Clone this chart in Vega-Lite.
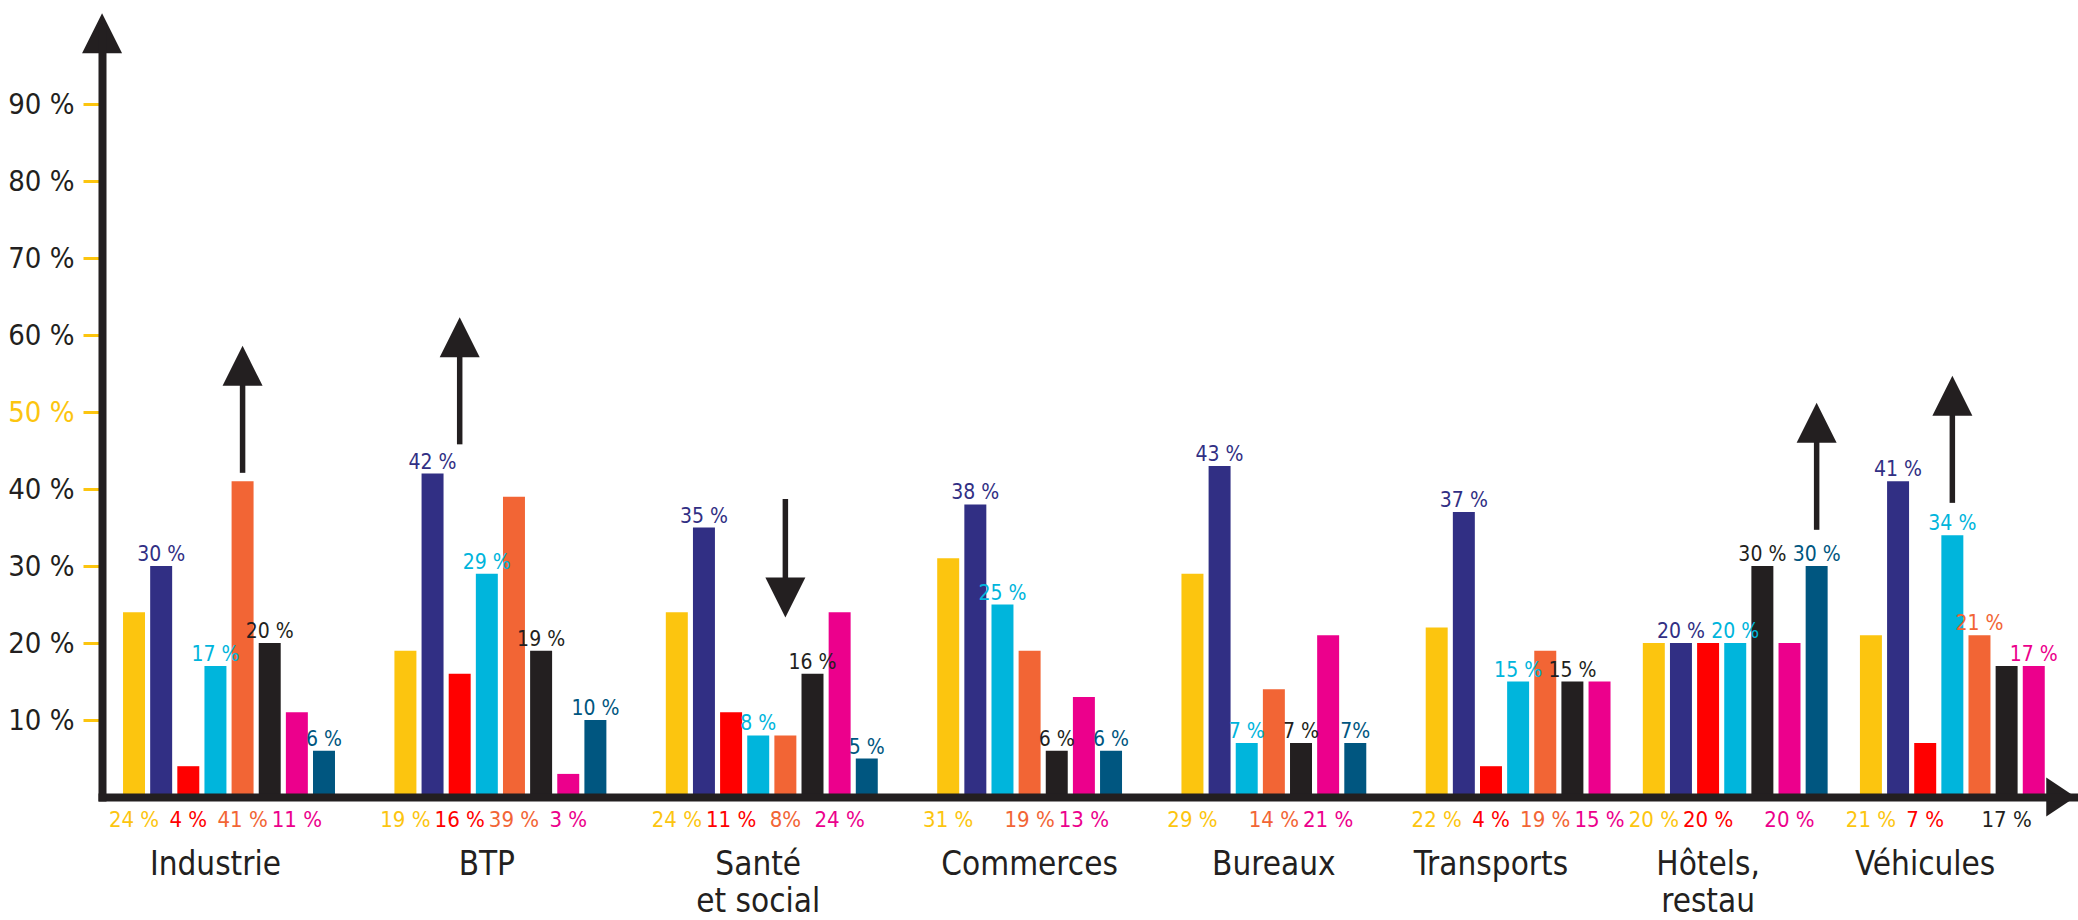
{
  "$schema": "https://vega.github.io/schema/vega-lite/v6.json",
  "width": 1976,
  "height": 770,
  "autosize": {"type": "none"},
  "padding": {"left": 102, "top": 27, "right": 0, "bottom": 123},
  "background": "#ffffff",
  "config": {
    "view": {"stroke": null},
    "font": "DejaVu Sans Condensed, Roboto, sans-serif",
    "axis": {"grid": false}
  },
  "datasets": {
    "barres": [
      {"secteur": "Industrie", "serie": "jaune", "id": "Industrie/jaune", "valeur": 24, "etiquette": "24 %", "place": "dessous"},
      {"secteur": "Industrie", "serie": "bleu", "id": "Industrie/bleu", "valeur": 30, "etiquette": "30 %", "place": "dessus"},
      {"secteur": "Industrie", "serie": "rouge", "id": "Industrie/rouge", "valeur": 4, "etiquette": "4 %", "place": "dessous"},
      {"secteur": "Industrie", "serie": "cyan", "id": "Industrie/cyan", "valeur": 17, "etiquette": "17 %", "place": "dessus"},
      {"secteur": "Industrie", "serie": "orange", "id": "Industrie/orange", "valeur": 41, "etiquette": "41 %", "place": "dessous"},
      {"secteur": "Industrie", "serie": "noir", "id": "Industrie/noir", "valeur": 20, "etiquette": "20 %", "place": "dessus"},
      {"secteur": "Industrie", "serie": "magenta", "id": "Industrie/magenta", "valeur": 11, "etiquette": "11 %", "place": "dessous"},
      {"secteur": "Industrie", "serie": "pétrole", "id": "Industrie/pétrole", "valeur": 6, "etiquette": "6 %", "place": "dessus"},
      {"secteur": "BTP", "serie": "jaune", "id": "BTP/jaune", "valeur": 19, "etiquette": "19 %", "place": "dessous"},
      {"secteur": "BTP", "serie": "bleu", "id": "BTP/bleu", "valeur": 42, "etiquette": "42 %", "place": "dessus"},
      {"secteur": "BTP", "serie": "rouge", "id": "BTP/rouge", "valeur": 16, "etiquette": "16  %", "place": "dessous"},
      {"secteur": "BTP", "serie": "cyan", "id": "BTP/cyan", "valeur": 29, "etiquette": "29 %", "place": "dessus"},
      {"secteur": "BTP", "serie": "orange", "id": "BTP/orange", "valeur": 39, "etiquette": "39 %", "place": "dessous"},
      {"secteur": "BTP", "serie": "noir", "id": "BTP/noir", "valeur": 19, "etiquette": "19 %", "place": "dessus"},
      {"secteur": "BTP", "serie": "magenta", "id": "BTP/magenta", "valeur": 3, "etiquette": "3 %", "place": "dessous"},
      {"secteur": "BTP", "serie": "pétrole", "id": "BTP/pétrole", "valeur": 10, "etiquette": "10 %", "place": "dessus"},
      {"secteur": "Santé et social", "serie": "jaune", "id": "Santé/jaune", "valeur": 24, "etiquette": "24 %", "place": "dessous"},
      {"secteur": "Santé et social", "serie": "bleu", "id": "Santé/bleu", "valeur": 35, "etiquette": "35 %", "place": "dessus"},
      {"secteur": "Santé et social", "serie": "rouge", "id": "Santé/rouge", "valeur": 11, "etiquette": "11  %", "place": "dessous"},
      {"secteur": "Santé et social", "serie": "cyan", "id": "Santé/cyan", "valeur": 8, "etiquette": "8 %", "place": "dessus"},
      {"secteur": "Santé et social", "serie": "orange", "id": "Santé/orange", "valeur": 8, "etiquette": "8%", "place": "dessous"},
      {"secteur": "Santé et social", "serie": "noir", "id": "Santé/noir", "valeur": 16, "etiquette": "16 %", "place": "dessus"},
      {"secteur": "Santé et social", "serie": "magenta", "id": "Santé/magenta", "valeur": 24, "etiquette": "24 %", "place": "dessous"},
      {"secteur": "Santé et social", "serie": "pétrole", "id": "Santé/pétrole", "valeur": 5, "etiquette": "5 %", "place": "dessus"},
      {"secteur": "Commerces", "serie": "jaune", "id": "Commerces/jaune", "valeur": 31, "etiquette": "31 %", "place": "dessous"},
      {"secteur": "Commerces", "serie": "bleu", "id": "Commerces/bleu", "valeur": 38, "etiquette": "38 %", "place": "dessus"},
      {"secteur": "Commerces", "serie": "cyan", "id": "Commerces/cyan", "valeur": 25, "etiquette": "25 %", "place": "dessus"},
      {"secteur": "Commerces", "serie": "orange", "id": "Commerces/orange", "valeur": 19, "etiquette": "19 %", "place": "dessous"},
      {"secteur": "Commerces", "serie": "noir", "id": "Commerces/noir", "valeur": 6, "etiquette": "6 %", "place": "dessus"},
      {"secteur": "Commerces", "serie": "magenta", "id": "Commerces/magenta", "valeur": 13, "etiquette": "13 %", "place": "dessous"},
      {"secteur": "Commerces", "serie": "pétrole", "id": "Commerces/pétrole", "valeur": 6, "etiquette": "6 %", "place": "dessus"},
      {"secteur": "Bureaux", "serie": "jaune", "id": "Bureaux/jaune", "valeur": 29, "etiquette": "29 %", "place": "dessous"},
      {"secteur": "Bureaux", "serie": "bleu", "id": "Bureaux/bleu", "valeur": 43, "etiquette": "43 %", "place": "dessus"},
      {"secteur": "Bureaux", "serie": "cyan", "id": "Bureaux/cyan", "valeur": 7, "etiquette": "7 %", "place": "dessus"},
      {"secteur": "Bureaux", "serie": "orange", "id": "Bureaux/orange", "valeur": 14, "etiquette": "14 %", "place": "dessous"},
      {"secteur": "Bureaux", "serie": "noir", "id": "Bureaux/noir", "valeur": 7, "etiquette": "7 %", "place": "dessus"},
      {"secteur": "Bureaux", "serie": "magenta", "id": "Bureaux/magenta", "valeur": 21, "etiquette": "21 %", "place": "dessous"},
      {"secteur": "Bureaux", "serie": "pétrole", "id": "Bureaux/pétrole", "valeur": 7, "etiquette": "7%", "place": "dessus"},
      {"secteur": "Transports", "serie": "jaune", "id": "Transports/jaune", "valeur": 22, "etiquette": "22 %", "place": "dessous"},
      {"secteur": "Transports", "serie": "bleu", "id": "Transports/bleu", "valeur": 37, "etiquette": "37 %", "place": "dessus"},
      {"secteur": "Transports", "serie": "rouge", "id": "Transports/rouge", "valeur": 4, "etiquette": "4 %", "place": "dessous"},
      {"secteur": "Transports", "serie": "cyan", "id": "Transports/cyan", "valeur": 15, "etiquette": "15 %", "place": "dessus"},
      {"secteur": "Transports", "serie": "orange", "id": "Transports/orange", "valeur": 19, "etiquette": "19 %", "place": "dessous"},
      {"secteur": "Transports", "serie": "noir", "id": "Transports/noir", "valeur": 15, "etiquette": "15 %", "place": "dessus"},
      {"secteur": "Transports", "serie": "magenta", "id": "Transports/magenta", "valeur": 15, "etiquette": "15 %", "place": "dessous"},
      {"secteur": "Hôtels, restau", "serie": "jaune", "id": "Hôtels/jaune", "valeur": 20, "etiquette": "20 %", "place": "dessous"},
      {"secteur": "Hôtels, restau", "serie": "bleu", "id": "Hôtels/bleu", "valeur": 20, "etiquette": "20 %", "place": "dessus"},
      {"secteur": "Hôtels, restau", "serie": "rouge", "id": "Hôtels/rouge", "valeur": 20, "etiquette": "20 %", "place": "dessous"},
      {"secteur": "Hôtels, restau", "serie": "cyan", "id": "Hôtels/cyan", "valeur": 20, "etiquette": "20 %", "place": "dessus"},
      {"secteur": "Hôtels, restau", "serie": "noir", "id": "Hôtels/noir", "valeur": 30, "etiquette": "30 %", "place": "dessus"},
      {"secteur": "Hôtels, restau", "serie": "magenta", "id": "Hôtels/magenta", "valeur": 20, "etiquette": "20 %", "place": "dessous"},
      {"secteur": "Hôtels, restau", "serie": "pétrole", "id": "Hôtels/pétrole", "valeur": 30, "etiquette": "30 %", "place": "dessus"},
      {"secteur": "Véhicules", "serie": "jaune", "id": "Véhicules/jaune", "valeur": 21, "etiquette": "21 %", "place": "dessous"},
      {"secteur": "Véhicules", "serie": "bleu", "id": "Véhicules/bleu", "valeur": 41, "etiquette": "41 %", "place": "dessus"},
      {"secteur": "Véhicules", "serie": "rouge", "id": "Véhicules/rouge", "valeur": 7, "etiquette": "7 %", "place": "dessous"},
      {"secteur": "Véhicules", "serie": "cyan", "id": "Véhicules/cyan", "valeur": 34, "etiquette": "34 %", "place": "dessus"},
      {"secteur": "Véhicules", "serie": "orange", "id": "Véhicules/orange", "valeur": 21, "etiquette": "21 %", "place": "dessus"},
      {"secteur": "Véhicules", "serie": "noir", "id": "Véhicules/noir", "valeur": 17, "etiquette": "17 %", "place": "dessous"},
      {"secteur": "Véhicules", "serie": "magenta", "id": "Véhicules/magenta", "valeur": 17, "etiquette": "17 %", "place": "dessus"}
    ],
    "secteurs": [
      {"nom": "Industrie", "ancre": "Industrie/cyan"},
      {"nom": "BTP", "ancre": "BTP/cyan"},
      {"nom": "Santé\net social", "ancre": "Santé/cyan"},
      {"nom": "Commerces", "ancre": "Commerces/orange"},
      {"nom": "Bureaux", "ancre": "Bureaux/orange"},
      {"nom": "Transports", "ancre": "Transports/rouge"},
      {"nom": "Hôtels,\nrestau", "ancre": "Hôtels/rouge"},
      {"nom": "Véhicules", "ancre": "Véhicules/rouge"}
    ],
    "fleches": [
      {"ancre": "Industrie/orange", "sens": "hausse", "depart": 42.1, "pointe": 56.0},
      {"ancre": "BTP/rouge", "sens": "hausse", "depart": 45.8, "pointe": 59.7},
      {"ancre": "Santé/orange", "sens": "baisse", "depart": 38.7, "pointe": 25.9},
      {"ancre": "Hôtels/pétrole", "sens": "hausse", "depart": 34.7, "pointe": 48.6},
      {"ancre": "Véhicules/cyan", "sens": "hausse", "depart": 38.2, "pointe": 52.1}
    ]
  },
  "encoding": {
    "x": {
      "field": "id",
      "type": "nominal",
      "sort": null,
      "scale": {
        "domain": [
          "Industrie/jaune", "Industrie/bleu", "Industrie/rouge", "Industrie/cyan", "Industrie/orange", "Industrie/noir", "Industrie/magenta", "Industrie/pétrole", "_1", "_2",
          "BTP/jaune", "BTP/bleu", "BTP/rouge", "BTP/cyan", "BTP/orange", "BTP/noir", "BTP/magenta", "BTP/pétrole", "_3", "_4",
          "Santé/jaune", "Santé/bleu", "Santé/rouge", "Santé/cyan", "Santé/orange", "Santé/noir", "Santé/magenta", "Santé/pétrole", "_5", "_6",
          "Commerces/jaune", "Commerces/bleu", "Commerces/cyan", "Commerces/orange", "Commerces/noir", "Commerces/magenta", "Commerces/pétrole", "_7", "_8",
          "Bureaux/jaune", "Bureaux/bleu", "Bureaux/cyan", "Bureaux/orange", "Bureaux/noir", "Bureaux/magenta", "Bureaux/pétrole", "_9", "_10",
          "Transports/jaune", "Transports/bleu", "Transports/rouge", "Transports/cyan", "Transports/orange", "Transports/noir", "Transports/magenta", "_11",
          "Hôtels/jaune", "Hôtels/bleu", "Hôtels/rouge", "Hôtels/cyan", "Hôtels/noir", "Hôtels/magenta", "Hôtels/pétrole", "_12",
          "Véhicules/jaune", "Véhicules/bleu", "Véhicules/rouge", "Véhicules/cyan", "Véhicules/orange", "Véhicules/noir", "Véhicules/magenta", "fin"
        ],
        "paddingInner": 0.19,
        "paddingOuter": 0.5,
        "align": 0.775
      },
      "axis": {
        "title": null,
        "labels": false,
        "ticks": false,
        "domain": true,
        "domainColor": "#231f20",
        "domainWidth": 8,
        "domainCap": "square",
        "zindex": 1
      }
    }
  },
  "layer": [
    {
      "data": {"name": "barres"},
      "mark": {"type": "bar"},
      "encoding": {
        "y": {
          "field": "valeur",
          "type": "quantitative",
          "scale": {"domain": [0, 100], "nice": false, "zero": true},
          "axis": {
            "title": null,
            "values": [10, 20, 30, 40, 50, 60, 70, 80, 90],
            "labelExpr": "datum.value + ' %'",
            "labelFontSize": 29,
            "labelColor": {"condition": {"test": "datum.value === 50", "value": "#fcc50f"}, "value": "#231f20"},
            "labelPadding": 9,
            "tickColor": "#fcc50f",
            "tickSize": 19,
            "tickWidth": 3,
            "domain": true,
            "domainColor": "#231f20",
            "domainWidth": 8,
            "domainCap": "square",
            "zindex": 1,
            "grid": false
          }
        },
        "color": {
          "field": "serie",
          "type": "nominal",
          "scale": {
            "domain": ["jaune", "bleu", "rouge", "cyan", "orange", "noir", "magenta", "pétrole"],
            "range": ["#fcc50f", "#312f84", "#ff0000", "#00b5dc", "#f26535", "#231f20", "#ec008c", "#005680"]
          },
          "legend": null
        }
      }
    },
    {
      "data": {"name": "barres"},
      "transform": [{"filter": "datum.place === 'dessus'"}],
      "mark": {"type": "text", "fontSize": 21, "baseline": "alphabetic", "align": "center", "dy": -5},
      "encoding": {
        "y": {"field": "valeur", "type": "quantitative"},
        "text": {"field": "etiquette"},
        "color": {"field": "serie", "type": "nominal", "legend": null}
      }
    },
    {
      "data": {"name": "barres"},
      "transform": [{"filter": "datum.place === 'dessous'"}],
      "mark": {"type": "text", "fontSize": 22, "baseline": "alphabetic", "align": "center", "dy": 30},
      "encoding": {
        "y": {"datum": 0, "type": "quantitative"},
        "text": {"field": "etiquette"},
        "color": {"field": "serie", "type": "nominal", "legend": null}
      }
    },
    {
      "data": {"name": "secteurs"},
      "mark": {"type": "text", "fontSize": 33, "baseline": "alphabetic", "align": "center", "dy": 78, "lineBreak": "\n", "lineHeight": 37, "color": "#231f20"},
      "encoding": {
        "x": {"field": "ancre", "type": "nominal"},
        "y": {"datum": 0, "type": "quantitative"},
        "text": {"field": "nom"}
      }
    },
    {
      "data": {"name": "fleches"},
      "mark": {"type": "rule", "color": "#231f20", "strokeWidth": 5.5},
      "encoding": {
        "x": {"field": "ancre", "type": "nominal"},
        "y": {"field": "depart", "type": "quantitative"},
        "y2": {"field": "pointe"}
      }
    },
    {
      "data": {"name": "fleches"},
      "mark": {"type": "point", "filled": true, "opacity": 1, "size": 1600, "color": "#231f20", "strokeWidth": 0},
      "encoding": {
        "x": {"field": "ancre", "type": "nominal"},
        "y": {"field": "pointe", "type": "quantitative"},
        "shape": {
          "field": "sens",
          "type": "nominal",
          "scale": {"domain": ["hausse", "baisse"], "range": ["M-1,1L0,-1L1,1Z", "M-1,-1L0,1L1,-1Z"]},
          "legend": null
        }
      }
    },
    {
      "data": {"values": [{}]},
      "mark": {"type": "point", "filled": true, "opacity": 1, "size": 1521, "color": "#231f20", "strokeWidth": 0, "shape": "M-0.75,-1L0.75,0L-0.75,1Z"},
      "encoding": {
        "x": {"datum": "fin", "type": "nominal"},
        "y": {"datum": 0, "type": "quantitative"}
      }
    },
    {
      "data": {"values": [{}]},
      "mark": {"type": "point", "filled": true, "opacity": 1, "size": 1600, "color": "#231f20", "strokeWidth": 0, "shape": "M-1,1L0,-1L1,1Z"},
      "encoding": {
        "x": {"datum": "Industrie/jaune", "type": "nominal", "bandPosition": -0.955},
        "y": {"datum": 99.2, "type": "quantitative"}
      }
    }
  ]
}
